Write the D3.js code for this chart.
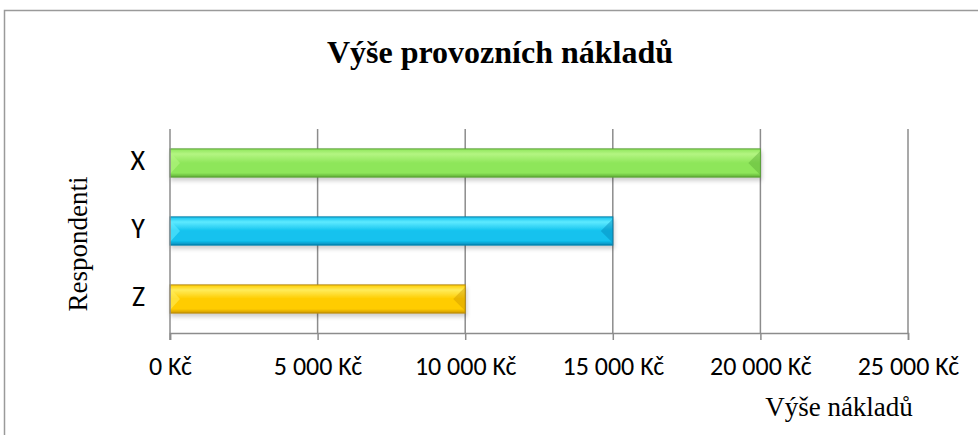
<!DOCTYPE html>
<html>
<head>
<meta charset="utf-8">
<script src="https://cdn.jsdelivr.net/npm/d3@7"></script>
<style>
  body { margin: 0; background: #fff; }
  svg { display: block; }
</style>
</head>
<body>
<div id="chart"></div>
<script>
// Data
const respondents = ['X', 'Y', 'Z'];
const costs = [20000, 15000, 10000];
const tickValues = [0, 5000, 10000, 15000, 20000, 25000];
const barColors = [
  { top: '#b4f582', mid: '#8ee65a', bot: '#5cae35', edge: '#5a9e38' },
  { top: '#5eeaff', mid: '#12c2ee', bot: '#0088b8', edge: '#0a7fa8' },
  { top: '#ffec5a', mid: '#ffcc00', bot: '#cf9800', edge: '#b58a10' }
];

const width = 978;
const height = 435;
const margin = { top: 129, right: 70, bottom: 102, left: 170 };

const svg = d3.select('#chart')
  .append('svg')
  .attr('width', width)
  .attr('height', height);

// outer chart frame
svg.append('rect')
  .attr('x', 4.5)
  .attr('y', 10.5)
  .attr('width', width + 20)
  .attr('height', height + 20)
  .attr('fill', 'none')
  .attr('stroke', '#9a9a9a')
  .attr('stroke-width', 1.5);

const x = d3.scaleLinear()
  .domain([0, 25000])
  .range([margin.left, margin.left + 738]);
const y = d3.scaleBand()
  .domain(respondents)
  .range([margin.top, height - margin.bottom])
  .paddingInner(0.585)
  .paddingOuter(0.2925);

const defs = svg.append('defs');
barColors.forEach((c, i) => {
  const g = defs.append('linearGradient')
    .attr('id', 'grad' + i)
    .attr('x1', 0).attr('y1', 0).attr('x2', 0).attr('y2', 1);
  g.append('stop').attr('offset', '0%').attr('stop-color', c.mid);
  g.append('stop').attr('offset', '18%').attr('stop-color', c.top);
  g.append('stop').attr('offset', '50%').attr('stop-color', c.mid);
  g.append('stop').attr('offset', '85%').attr('stop-color', c.mid);
  g.append('stop').attr('offset', '100%').attr('stop-color', c.bot);
});
const shadow = defs.append('filter').attr('id', 'shadow')
  .attr('x', '-5%').attr('y', '-20%').attr('width', '110%').attr('height', '160%');
shadow.append('feDropShadow')
  .attr('dx', 1).attr('dy', 3).attr('stdDeviation', 2)
  .attr('flood-color', '#000').attr('flood-opacity', 0.2);

// gridlines
svg.append('g')
  .selectAll('line')
  .data(tickValues.slice(1))
  .enter().append('line')
  .attr('x1', d => x(d)).attr('x2', d => x(d))
  .attr('y1', margin.top).attr('y2', height - margin.bottom)
  .attr('stroke', '#8c8c8c')
  .attr('stroke-width', 1.5);

// bars
const bars = svg.append('g')
  .selectAll('g')
  .data(respondents.map((r, i) => ({ r, v: costs[i], c: barColors[i], i })))
  .enter().append('g');

bars.append('rect')
  .attr('x', x(0))
  .attr('y', d => y(d.r))
  .attr('width', d => x(d.v) - x(0))
  .attr('height', y.bandwidth())
  .attr('fill', d => `url(#grad${d.i})`)
  .attr('stroke', d => d.c.edge)
  .attr('stroke-width', 1)
  .attr('filter', 'url(#shadow)');

// bevel triangles at bar ends
bars.append('path')
  .attr('d', d => {
    const y0 = y(d.r), h = y.bandwidth(), x0 = x(0);
    return `M${x0},${y0 + 3}L${x0 + 10},${y0 + h / 2}L${x0},${y0 + h - 3}Z`;
  })
  .attr('fill', d => d.c.top)
  .attr('opacity', 0.6);
bars.append('path')
  .attr('d', d => {
    const y0 = y(d.r), h = y.bandwidth(), x1 = x(d.v);
    return `M${x1},${y0 + 2}L${x1 - 12},${y0 + h / 2}L${x1},${y0 + h - 2}Z`;
  })
  .attr('fill', d => d.c.bot)
  .attr('opacity', 0.45);

// x axis
const xAxis = svg.append('g')
  .attr('transform', `translate(0,${height - margin.bottom})`)
  .call(d3.axisBottom(x)
    .tickValues(tickValues)
    .tickSize(7)
    .tickPadding(17)
    .tickFormat(d => d3.format(',')(d).replace(/,/g, ' ') + ' Kč'));
xAxis.select('.domain').attr('stroke', '#8c8c8c').attr('stroke-width', 1.5);
xAxis.selectAll('.tick line').attr('stroke', '#8c8c8c').attr('stroke-width', 1.5);
xAxis.selectAll('text')
  .attr('fill', '#000')
  .style('font-family', 'Carlito, Calibri, "Open Sans", sans-serif')
  .style('font-size', '26px');

// y axis
const yAxis = svg.append('g')
  .attr('transform', `translate(${margin.left},0)`)
  .call(d3.axisLeft(y).tickSize(0).tickPadding(25));
yAxis.select('.domain').remove();
svg.append('line')
  .attr('x1', margin.left).attr('x2', margin.left)
  .attr('y1', margin.top).attr('y2', height - margin.bottom + 7)
  .attr('stroke', '#8c8c8c').attr('stroke-width', 1.5);
yAxis.selectAll('text')
  .attr('fill', '#000')
  .attr('dy', '0.26em')
  .style('font-family', 'Carlito, Calibri, "Open Sans", sans-serif')
  .style('font-size', '28px');

// titles
svg.append('text')
  .attr('x', 500)
  .attr('y', 63)
  .style('text-anchor', 'middle')
  .style('font-family', '"Liberation Serif", "Times New Roman", serif')
  .style('font-weight', 'bold')
  .style('font-size', '32px')
  .text('Výše provozních nákladů');

svg.append('text')
  .attr('transform', 'rotate(-90)')
  .attr('x', -244)
  .attr('y', 87)
  .style('text-anchor', 'middle')
  .style('font-family', '"Liberation Serif", "Times New Roman", serif')
  .style('font-size', '27px')
  .text('Respondenti');

svg.append('text')
  .attr('x', 839)
  .attr('y', 416)
  .style('text-anchor', 'middle')
  .style('font-family', '"Liberation Serif", "Times New Roman", serif')
  .style('font-size', '27px')
  .text('Výše nákladů');
</script>
</body>
</html>
